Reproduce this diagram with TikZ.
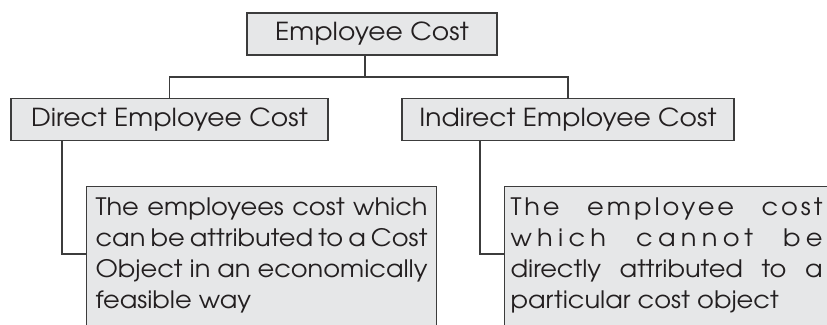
\documentclass[tikz,border=0pt]{standalone}
\usepackage{fontspec}
\setmainfont[FakeStretch=1.07]{TeX Gyre Adventor}
\usepackage{xcolor}
\usetikzlibrary{positioning}
\definecolor{boxfill}{HTML}{E6E7E8}
\definecolor{boxline}{HTML}{3C3C3C}
\definecolor{ink}{HTML}{231F20}
\newcommand{\infotext}[2]{\parbox[t][200pt][t]{#1}{#2}}
\newcommand{\spread}[2]{{\addfontfeature{LetterSpace=#1}#2}}

\begin{document}
\begin{tikzpicture}[-, x=1pt, y=-1pt, line width=1.2pt]
 				 \tikzstyle{head}=[draw=boxline, fill=boxfill, text=ink, inner sep=0pt, minimum height=42pt, font=\fontsize{24.8}{28}\selectfont]
 				 \tikzstyle{info}=[draw=boxline, fill=boxfill, text=ink, anchor=north west, inner ysep=11pt, font=\fontsize{24}{31}\selectfont]
 				 \tikzstyle{link}=[draw=boxline]
 					 \useasboundingbox (0,0) rectangle (827,324);
 					 \node[head, minimum width=250pt]   (EC)  at (372,34)    {Employee Cost};
  					 \node[head, minimum width=317pt]   (DEC) at (169.5,119.5) {Direct Employee Cost};
  					 \node[head, minimum width=332pt]   (IEC) at (568,119.5)   {Indirect Employee Cost};
  					 \node[info, inner xsep=9pt]      (DD)  at (86,186)  {\infotext{332pt}{The employees cost which\linebreak can be attributed to a Cost\linebreak Object in an economically\linebreak feasible way}};
  					 \node[info, inner xsep=6pt]      (ID)  at (504,186) {\infotext{312pt}{\spread{12}{The employee cost}\linebreak \spread{22}{which cannot be}\linebreak directly attributed to a\linebreak particular cost object}};
 					 \coordinate (split) at (365,77);
 					 \path[link]
 					 ([xshift=-7pt]EC.south) edge (split);
 					 \draw[link] (DEC.north) |- (split) -| (IEC.north);
 					 \draw[link] ([xshift=-107.5pt]DEC.south) |- ([yshift=-68pt]DD.north west);
 					 \draw[link] ([xshift=-88pt]IEC.south) |- ([yshift=-68pt]ID.north west);
				\end{tikzpicture}
\end{document}
